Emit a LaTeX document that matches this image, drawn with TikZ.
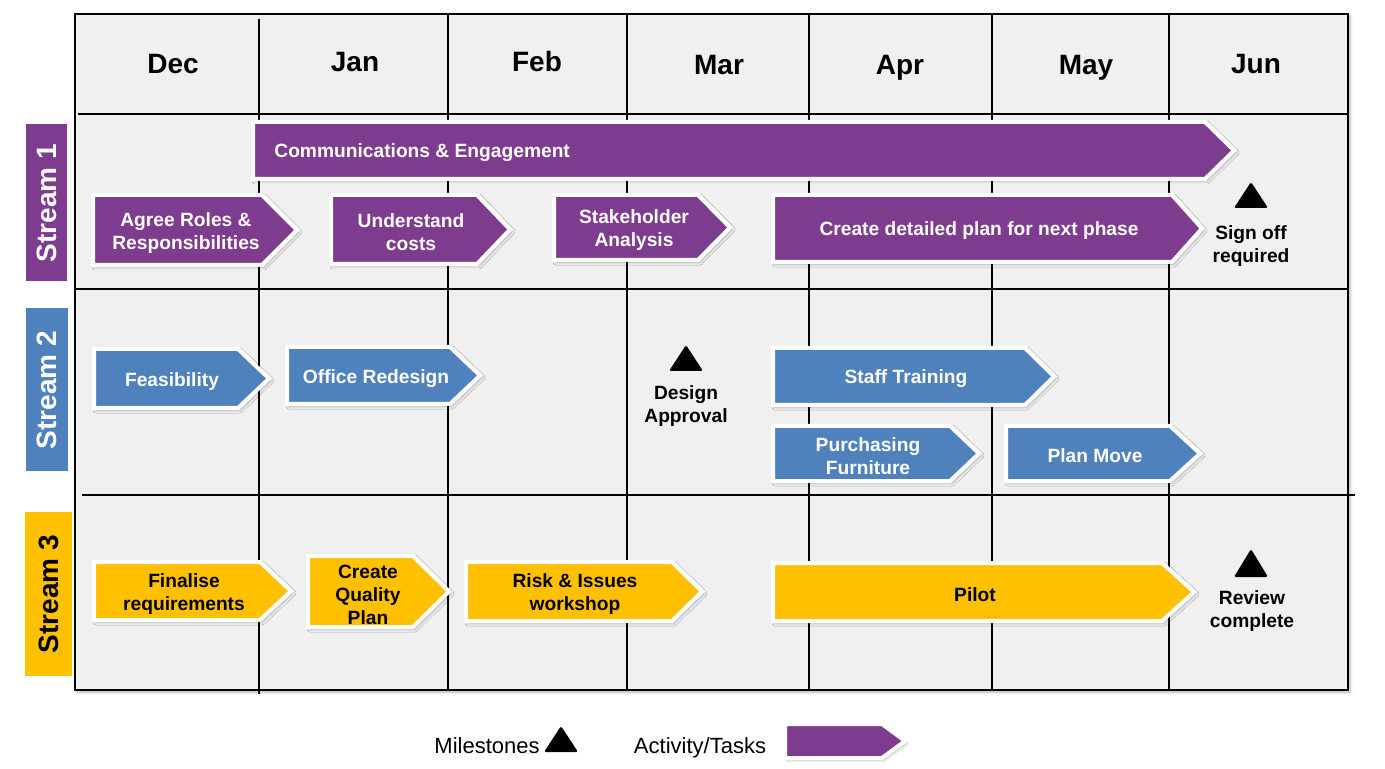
\documentclass[tikz,border=0pt]{standalone}
\usepackage{fontspec}
\setmainfont{Liberation Sans}
\usetikzlibrary{shadows,shadows.blur}

\definecolor{sPurple}{RGB}{126,60,142}
\definecolor{sBlue}{RGB}{79,129,189}
\definecolor{sGold}{RGB}{255,192,0}
\definecolor{gridbg}{RGB}{240,240,240}

\tikzset{
  gridline/.style={line width=1pt, draw=black},
  taskshape/.style={draw=white, line width=2pt, line join=miter,
    blur shadow={shadow xshift=1pt, shadow yshift=-1pt, shadow blur radius=1.5pt, shadow opacity=30}},
  tasktext/.style={font=\bfseries\fontsize{9.6}{11.5}\selectfont, align=center, inner sep=0pt, yshift=-1.5pt},
  monthtext/.style={font=\bfseries\fontsize{14}{16}\selectfont, inner sep=0pt, text height=10pt, text depth=0pt},
  streamtext/.style={font=\bfseries\fontsize{14}{16}\selectfont, rotate=90, inner sep=0pt},
  milestone/.style={fill=black, rounded corners=0.8pt},
  miletext/.style={font=\bfseries\fontsize{9.6}{11.5}\selectfont, align=center, inner sep=0pt, yshift=-1.5pt},
  legendtext/.style={font=\fontsize{11}{13}\selectfont, inner sep=0pt, yshift=-1pt},
}

% #1 colour, #2 left x, #3 top y, #4 flat end x, #5 tip x, #6 bottom y
\newcommand\taskarrow[6]{%
  \path[taskshape, fill=#1] (#2-2,#3-2) -- (#4,#3-2) -- (#5+2,{(#3+#6)/2}) -- (#4,#6+2) -- (#2-2,#6+2) -- cycle;}
% #1 apex x, #2 apex y, #3 half width, #4 base y
\newcommand\milemark[4]{%
  \path[milestone] (#1,#2) -- (#1+#3,#4) -- (#1-#3,#4) -- cycle;}

\begin{document}
\begin{tikzpicture}[x=0.5pt,y=-0.5pt]
\useasboundingbox (0,0) rectangle (1385,769);

% grid background and frame
\path[fill=gridbg, blur shadow={shadow xshift=1pt, shadow yshift=-1pt, shadow blur radius=1.5pt, shadow opacity=30}] (75,14) rectangle (1348,690);
\draw[gridline] (75,14) rectangle (1348,690);
\draw[gridline] (78,114) -- (1348,114);
\draw[gridline] (75,289) -- (1348,289);
\draw[gridline] (82,495) -- (1355,495);
\draw[gridline] (259,19) -- (259,694);
\draw[gridline] (448,14) -- (448,690);
\draw[gridline] (627,14) -- (627,690);
\draw[gridline] (809,14) -- (809,690);
\draw[gridline] (992,14) -- (992,690);
\draw[gridline] (1169,14) -- (1169,690);

% month headers
\node[monthtext] (dec) at (173,64) {Dec};
\node[monthtext] (jan) at (355,62) {Jan};
\node[monthtext] (feb) at (537,62) {Feb};
\node[monthtext] (mar) at (719,65) {Mar};
\node[monthtext] (apr) at (900,65) {Apr};
\node[monthtext] (may) at (1086,65) {May};
\node[monthtext] (jun) at (1256,64) {Jun};

% stream labels
\fill[sPurple] (26,124) rectangle (67,281);
\node[streamtext, text=white] (s1) at (47,203) {Stream 1};
\fill[sBlue] (26,308) rectangle (68,471);
\node[streamtext, text=white] (s2) at (47,390) {Stream 2};
\fill[sGold] (25,512) rectangle (72,676);
\node[streamtext, text=black] (s3) at (49,594) {Stream 3};

% stream 1
\taskarrow{sPurple}{255}{124}{1205}{1232}{177}
\node[tasktext, text=white, anchor=west] (comm) at (274,150) {Communications \& Engagement};
\taskarrow{sPurple}{95}{197}{262}{295}{263}
\node[tasktext, text=white] (roles) at (186,230) {Agree Roles \&\\Responsibilities};
\taskarrow{sPurple}{333}{197}{477}{508}{262}
\node[tasktext, text=white] (costs) at (411,229) {Understand\\costs};
\taskarrow{sPurple}{556}{197}{698}{728}{258}
\node[tasktext, text=white] (stake) at (634,227) {Stakeholder\\Analysis};
\taskarrow{sPurple}{775}{197}{1172}{1200}{260}
\node[tasktext, text=white] (plan) at (979,228) {Create detailed plan for next phase};
\milemark{1251}{182}{17}{208}
\node[miletext] (signoff) at (1251,243) {Sign off\\required};

% stream 2
\taskarrow{sBlue}{96}{351}{238}{267}{406}
\node[tasktext, text=white] (feas) at (172,379) {Feasibility};
\taskarrow{sBlue}{289}{349}{450}{478}{402}
\node[tasktext, text=white] (office) at (376,376) {Office Redesign};
\milemark{686}{345}{17}{371}
\node[miletext] (design) at (686,403) {Design\\Approval};
\taskarrow{sBlue}{775}{350}{1025}{1052}{403}
\node[tasktext, text=white] (staff) at (906,376) {Staff Training};
\taskarrow{sBlue}{775}{428}{950}{977}{479}
\node[tasktext, text=white] (furn) at (868,453) {Purchasing\\Furniture};
\taskarrow{sBlue}{1008}{428}{1170}{1198}{479}
\node[tasktext, text=white] (move) at (1095,453) {Plan Move};

% stream 3
\taskarrow{sGold}{96}{564}{260}{289}{618}
\node[tasktext, text=black] (final) at (184,591) {Finalise\\requirements};
\taskarrow{sGold}{310}{558}{413}{447}{625}
\node[tasktext, text=black] (quality) at (368,592) {Create\\Quality\\Plan};
\taskarrow{sGold}{468}{564}{672}{700}{619}
\node[tasktext, text=black] (risk) at (575,591) {Risk \& Issues\\workshop};
\taskarrow{sGold}{775}{565}{1162}{1192}{619}
\node[tasktext, text=black] (pilot) at (975,592) {Pilot};
\milemark{1251}{549}{17}{577}
\node[miletext] (review) at (1252,608) {Review\\complete};

% legend
\node[legendtext] (legmile) at (487,744) {Milestones};
\milemark{561}{726}{17}{752}
\node[legendtext] (legtask) at (700,746) {Activity/Tasks};
\taskarrow{sPurple}{787}{726}{882}{903}{756}
\end{tikzpicture}
\end{document}
